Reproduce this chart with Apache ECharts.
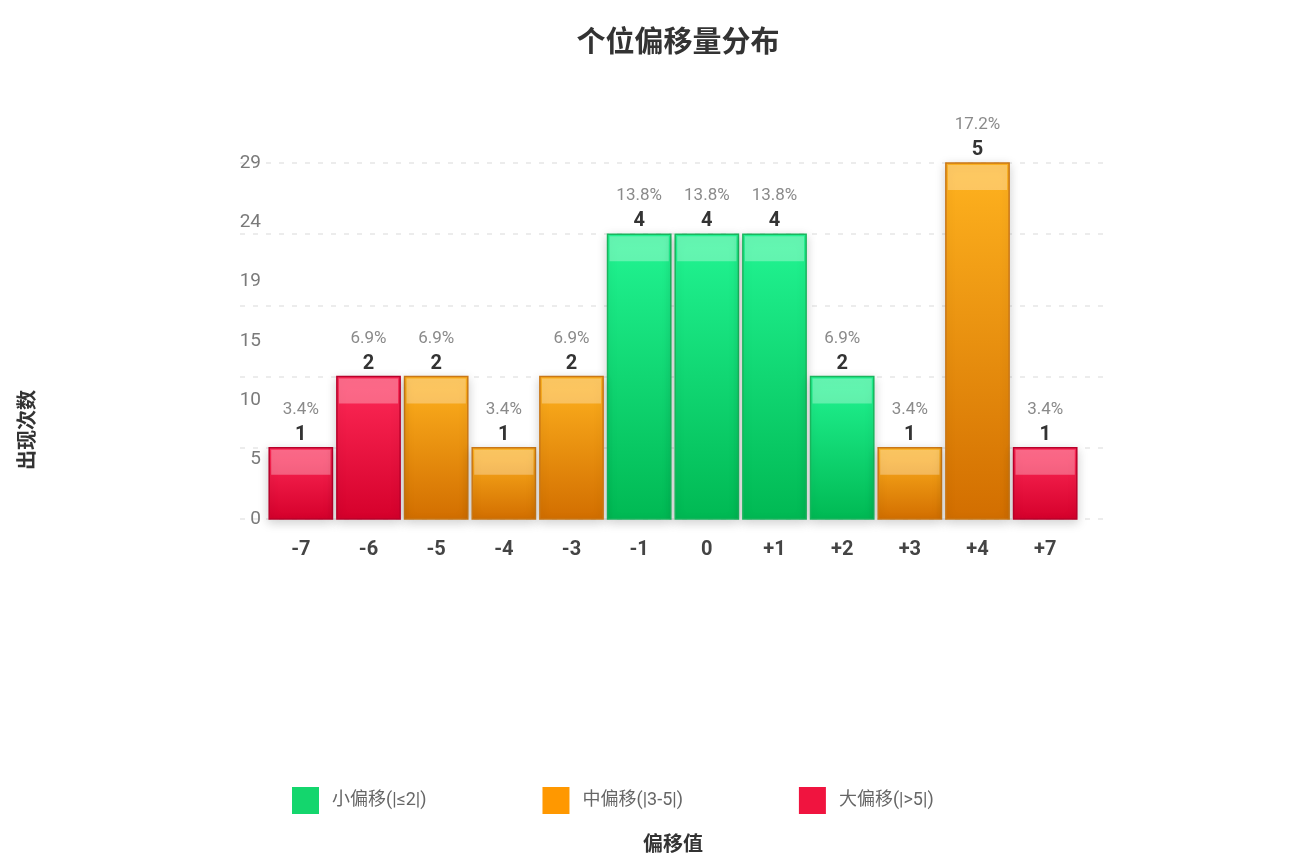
<!DOCTYPE html>
<html>
<head>
<meta charset="utf-8">
<script src="https://cdn.jsdelivr.net/npm/echarts@6/dist/echarts.min.js"></script>
<style>
html,body{margin:0;padding:0;background:#fff;}
#main{width:1289px;height:868px;}
</style>
</head>
<body>
<div id="main"></div>
<script>
const categories = ['-7','-6','-5','-4','-3','-1','0','+1','+2','+3','+4','+7'];
const counts = [1,2,2,1,2,4,4,4,2,1,5,1];
const yTickLabels = ['0','5','10','15','19','24','29'];
const seriesNames = ['小偏移(|≤2|)','中偏移(|3-5|)','大偏移(|>5|)'];
const titleText = '个位偏移量分布';
const xName = '偏移值';
const yName = '出现次数';

const FONT = 'Roboto, "Noto Sans CJK SC", sans-serif';
const palette = [
  {legend:'#14d66d', top:'#22f593', bottom:'#00b953', border:'#19b55d'},
  {legend:'#ff9800', top:'#ffb31f', bottom:'#d26e00', border:'#c97716'},
  {legend:'#f0143f', top:'#ff2b58', bottom:'#d5002b', border:'#b8002a'}
];
const total = counts.reduce((a,b)=>a+b,0);

function groupOf(cat){
  const a = Math.abs(parseInt(cat,10));
  return a <= 2 ? 0 : (a <= 5 ? 1 : 2);
}

function makeRender(c){
  return function(params, api){
    const idx = api.value(0), v = api.value(1);
    const top = api.coord([idx, v]);
    const base = api.coord([idx, 0]);
    const bw = api.size([1,0])[0] * 0.935;
    const x0 = top[0] - bw/2;
    const h = base[1] - top[1];
    const pct = (v/total*100).toFixed(1) + '%';
    return {
      type:'group',
      children:[
        {type:'rect', shape:{x:x0, y:top[1], width:bw, height:h},
         style:{fill:new echarts.graphic.LinearGradient(0,0,0,1,[{offset:0,color:c.top},{offset:1,color:c.bottom}]),
                stroke:c.border, lineWidth:1.5, shadowBlur:10, shadowColor:'rgba(0,0,0,0.18)', shadowOffsetY:3}},
        {type:'rect', shape:{x:x0+2, y:top[1]+2, width:bw-4, height:Math.min(25, h-4)},
         style:{fill:'rgba(255,255,255,0.3)'}},
        {type:'text', style:{text:pct, x:top[0], y:top[1]-38, align:'center', verticalAlign:'middle',
                fill:'#8a8a8a', fontSize:17, fontFamily:FONT}},
        {type:'text', style:{text:String(v), x:top[0], y:top[1]-13, align:'center', verticalAlign:'middle',
                fill:'#333', fontSize:20, fontWeight:'bold', fontFamily:FONT}}
      ]
    };
  };
}

const series = seriesNames.map((name, g) => ({
  name: name,
  type: 'custom',
  xAxisIndex: 0,
  yAxisIndex: 0,
  itemStyle: {color: palette[g].legend},
  encode: {x:0, y:1},
  renderItem: makeRender(palette[g]),
  data: categories.map((cat,i)=>[i, counts[i], groupOf(cat)]).filter(d=>d[2]===g).map(d=>[d[0], d[1]])
}));

const chart = echarts.init(document.getElementById('main'));
chart.setOption({
  backgroundColor:'#fff',
  animation:false,
  title:{text:titleText, left:673, textAlign:'center', top:25,
         textStyle:{fontSize:29, fontWeight:'bold', color:'#333', fontFamily:FONT}},
  legend:{left:287, top:782, itemWidth:27, itemHeight:27, itemGap:116, icon:'rect',
          textStyle:{color:'#666', fontSize:18, padding:[0,0,0,8], fontFamily:FONT},
          data:seriesNames},
  grid:[
    {left:267, right:210, top:163, bottom:349},
    {left:240, right:182, top:163, bottom:349}
  ],
  xAxis:[
    {gridIndex:0, type:'category', data:categories,
     axisLine:{show:false}, axisTick:{show:false},
     axisLabel:{color:'#444', fontSize:20, fontWeight:'bold', margin:21, fontFamily:FONT}},
    {gridIndex:1, type:'category', data:categories, show:false}
  ],
  yAxis:[
    {gridIndex:0, type:'value', min:0, max:5, show:false},
    {gridIndex:0, type:'value', min:0, max:6, interval:1, position:'left',
     axisLine:{show:false}, axisTick:{show:false}, splitLine:{show:false},
     axisLabel:{formatter:(v)=>yTickLabels[v], color:'#7a7a7a', fontSize:19, margin:6, fontFamily:FONT}},
    {gridIndex:1, type:'value', min:0, max:5, interval:1,
     axisLine:{show:false}, axisTick:{show:false}, axisLabel:{show:false},
     splitLine:{show:true, lineStyle:{type:[5,8], color:'#e6e6e6', width:1.5}}}
  ],
  graphic:[
    {type:'text', x:29, y:430, rotation:Math.PI/2,
     style:{text:yName, align:'center', verticalAlign:'middle', fill:'#333', fontSize:20, fontWeight:'bold', fontFamily:FONT}},
    {type:'text', x:673, y:846,
     style:{text:xName, align:'center', verticalAlign:'middle', fill:'#333', fontSize:20, fontWeight:'bold', fontFamily:FONT}}
  ],
  series: series
});
</script>
</body>
</html>
